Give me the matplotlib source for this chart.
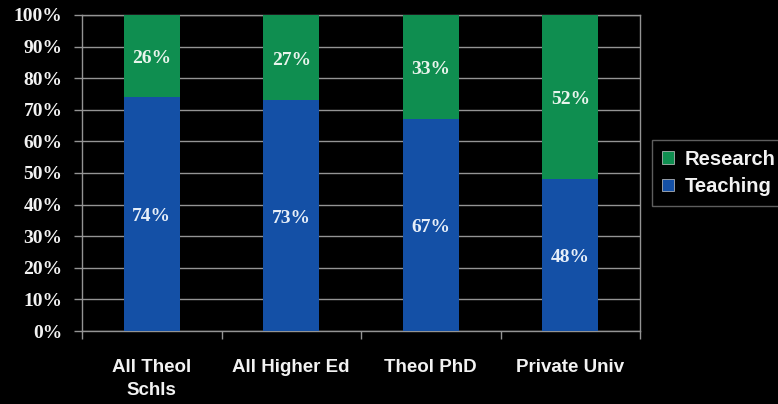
import matplotlib
matplotlib.use("Agg")
import matplotlib.pyplot as plt
import numpy as np
from matplotlib.patches import Patch

categories = ["All Theol\nSchls", "All Higher Ed", "Theol PhD", "Private Univ"]
teaching = [74, 73, 67, 48]
research = [26, 27, 33, 52]
yticks = [0, 10, 20, 30, 40, 50, 60, 70, 80, 90, 100]

blue = "#1450A6"
green = "#0F8E50"
grid_c = "#949494"
txt = "#f2f2f2"

fig = plt.figure(figsize=(7.78, 4.04), dpi=100, facecolor="black")
ax = fig.add_axes([82/778, 1-331/404, (640-82)/778, (331-15)/404])
ax.set_facecolor("black")

x = np.arange(len(categories))
ax.bar(x, teaching, width=0.4, color=blue, zorder=3)
ax.bar(x, research, width=0.4, bottom=teaching, color=green, zorder=3)

for xi, t, r in zip(x, teaching, research):
    ax.text(xi, t/2 - 0.8, f"{t}%", ha="center", va="center", color="#e6eef8",
            fontsize=14, fontweight="bold", family="Liberation Serif", zorder=4)
    ax.text(xi, t + r/2 - 0.8, f"{r}%", ha="center", va="center", color="#e8f4ec",
            fontsize=14, fontweight="bold", family="Liberation Serif", zorder=4)

ax.set_xlim(-0.5, len(categories)-0.5)
ax.set_ylim(0, 100)
ax.set_yticks(yticks)
ax.set_yticklabels([f"{v}%" for v in yticks], family="Liberation Serif",
                   fontweight="bold", fontsize=14, color=txt)
ax.yaxis.grid(True, color=grid_c, linewidth=1, zorder=0)
ax.set_xticks(x)
ax.set_xticklabels(categories, family="Liberation Sans", fontweight="bold",
                   fontsize=13.5, color=txt, linespacing=1.45)
ax.tick_params(axis="x", length=0, pad=20)
ax.set_xticks(np.arange(len(categories)+1) - 0.5, minor=True)
ax.tick_params(axis="x", which="minor", length=6, color=grid_c, width=1)
ax.tick_params(axis="y", length=6, color=grid_c, width=1, pad=8)
for s in ["left", "right", "top", "bottom"]:
    ax.spines[s].set_color(grid_c)
    ax.spines[s].set_linewidth(1)

handles = [Patch(facecolor=green, edgecolor="#cccccc", linewidth=0.5, label="Research"),
           Patch(facecolor=blue, edgecolor="#cccccc", linewidth=0.5, label="Teaching")]
leg = ax.legend(handles=handles, loc="center left", bbox_to_anchor=(1.004, 0.5),
                frameon=True, fancybox=False, facecolor="black", edgecolor="#777777",
                handlelength=0.6, handleheight=0.6, handletextpad=0.5,
                borderpad=0.5, labelspacing=0.4,
                prop={"family": "Liberation Sans", "weight": "bold", "size": 14.5})
for t in leg.get_texts():
    t.set_color(txt)

fig.savefig("out.png", dpi=100, facecolor="black")
